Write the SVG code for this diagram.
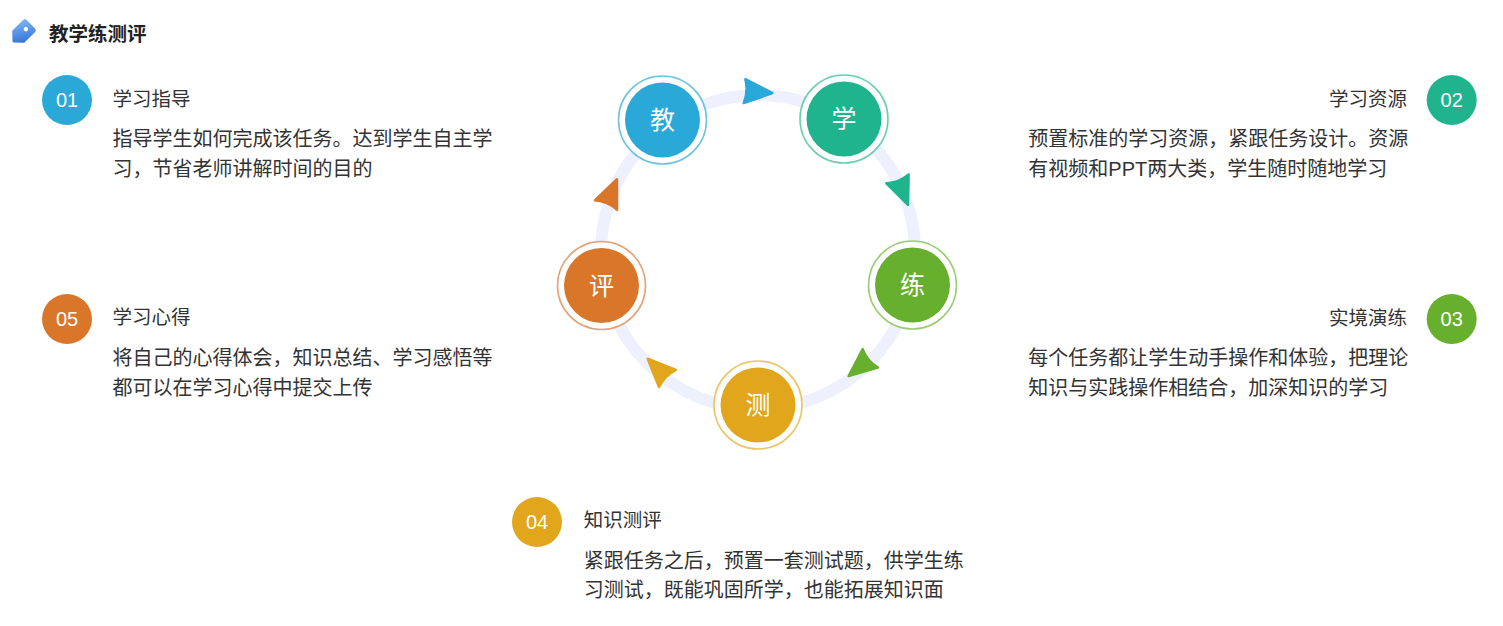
<svg xmlns="http://www.w3.org/2000/svg" width="1503" height="626" viewBox="0 0 1503 626">
<defs>
<linearGradient id="tagGrad" x1="1" y1="0" x2="0" y2="1">
<stop offset="0" stop-color="#7db4f5"/>
<stop offset="1" stop-color="#2c6ad6"/>
</linearGradient>
<path id="arr" d="M16,0 L-12,-12 Q-8,0 -12,12 Z"/>
</defs>
<style>
text{font-family:"Liberation Sans","Noto Sans CJK SC",sans-serif;}
.hd{font-size:19.5px;font-weight:bold;fill:#222;}
.tt{font-size:19.5px;fill:#333;}
.bd{font-size:20px;fill:#333;}
.num{font-size:20px;fill:#fff;text-anchor:middle;}
.lbl{font-size:25px;fill:#fff;text-anchor:middle;font-family:"Noto Sans CJK SC",sans-serif;}
.ring{fill:none;stroke:#eef1fd;stroke-width:12;}
.ah{stroke-width:2.5;stroke-linejoin:round;}
.outer{fill:#fff;stroke-width:1.6;}
</style>
<rect width="1503" height="626" fill="#fff"/>
<g id="header">
<g transform="translate(22,33) rotate(-45)">
<path d="M-12,0 L-5,-7.5 L10,-7.5 Q11.5,-7.5 11.5,-6 L11.5,6 Q11.5,7.5 10,7.5 L-5,7.5 Z" fill="url(#tagGrad)" stroke="url(#tagGrad)" stroke-width="2" stroke-linejoin="round"/>
<circle cx="5.5" cy="0" r="2.2" fill="#fff"/>
</g>
<text class="hd" x="49" y="41">教学练测评</text>
</g>
<g id="connectors">
<circle class="ring" cx="758" cy="252" r="157"/>
<use href="#arr" class="ah" fill="#2aa8d8" stroke="#2aa8d8" transform="translate(756.5,92) rotate(4)"/>
<use href="#arr" class="ah" fill="#1fb48e" stroke="#1fb48e" transform="translate(902,190) rotate(68)"/>
<use href="#arr" class="ah" fill="#67b02d" stroke="#67b02d" transform="translate(861,366) rotate(140.6)"/>
<use href="#arr" class="ah" fill="#e2a61c" stroke="#e2a61c" transform="translate(659,370) rotate(-135)"/>
<use href="#arr" class="ah" fill="#d9762a" stroke="#d9762a" transform="translate(610.7,194) rotate(-67)"/>
</g>
<g id="node-jiao">
<circle class="outer" cx="662.5" cy="120" r="44" stroke="#6ec3e6"/>
<circle cx="662.5" cy="120" r="37.5" fill="#2aa8d8"/>
<text class="lbl" x="662.5" y="129">教</text>
</g>
<g id="node-xue">
<circle class="outer" cx="844" cy="119" r="44" stroke="#6ccfb2"/>
<circle cx="844" cy="119" r="37.5" fill="#1fb48e"/>
<text class="lbl" x="844" y="128">学</text>
</g>
<g id="node-lian">
<circle class="outer" cx="912.5" cy="285" r="44" stroke="#9ccd76"/>
<circle cx="912.5" cy="285" r="37.5" fill="#67b02d"/>
<text class="lbl" x="912.5" y="294">练</text>
</g>
<g id="node-ce">
<circle class="outer" cx="758" cy="405" r="44" stroke="#ecc565"/>
<circle cx="758" cy="405" r="37.5" fill="#e2a61c"/>
<text class="lbl" x="758" y="414">测</text>
</g>
<g id="node-ping">
<circle class="outer" cx="601.5" cy="285.5" r="44" stroke="#e6a274"/>
<circle cx="601.5" cy="285.5" r="37.5" fill="#d9762a"/>
<text class="lbl" x="601.5" y="294.5">评</text>
</g>
<g id="info-01">
<circle cx="67" cy="100" r="25" fill="#2aa8d8"/>
<text class="num" x="67" y="107">01</text>
<text class="tt" x="112.5" y="106">学习指导</text>
<text class="bd" x="112.5" y="146">指导学生如何完成该任务。达到学生自主学</text>
<text class="bd" x="112.5" y="176">习，节省老师讲解时间的目的</text>
</g>
<g id="info-02">
<circle cx="1451.7" cy="100" r="25" fill="#1fb48e"/>
<text class="num" x="1451.7" y="107">02</text>
<text class="tt" x="1407" y="106" text-anchor="end">学习资源</text>
<text class="bd" x="1028.3" y="146">预置标准的学习资源，紧跟任务设计。资源</text>
<text class="bd" x="1028.3" y="176">有视频和PPT两大类，学生随时随地学习</text>
</g>
<g id="info-03">
<circle cx="1451.7" cy="319" r="25" fill="#67b02d"/>
<text class="num" x="1451.7" y="326">03</text>
<text class="tt" x="1407" y="325" text-anchor="end">实境演练</text>
<text class="bd" x="1028.3" y="365">每个任务都让学生动手操作和体验，把理论</text>
<text class="bd" x="1028.3" y="395">知识与实践操作相结合，加深知识的学习</text>
</g>
<g id="info-04">
<circle cx="537" cy="522" r="25" fill="#e2a61c"/>
<text class="num" x="537" y="529">04</text>
<text class="tt" x="583.7" y="527">知识测评</text>
<text class="bd" x="583.7" y="568">紧跟任务之后，预置一套测试题，供学生练</text>
<text class="bd" x="583.7" y="597">习测试，既能巩固所学，也能拓展知识面</text>
</g>
<g id="info-05">
<circle cx="67" cy="319" r="25" fill="#d9762a"/>
<text class="num" x="67" y="326">05</text>
<text class="tt" x="112.5" y="324">学习心得</text>
<text class="bd" x="112.5" y="365">将自己的心得体会，知识总结、学习感悟等</text>
<text class="bd" x="112.5" y="395">都可以在学习心得中提交上传</text>
</g>
</svg>
